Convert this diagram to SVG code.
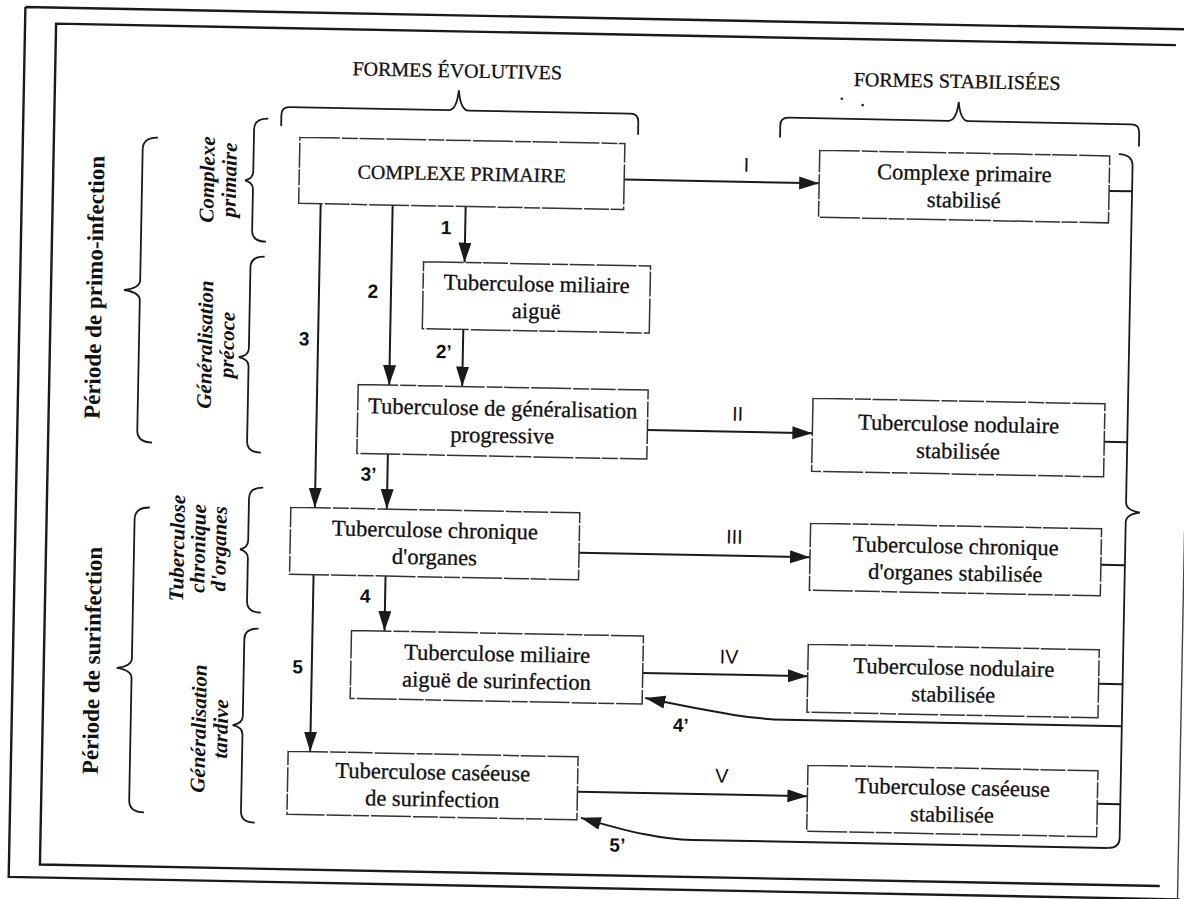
<svg xmlns="http://www.w3.org/2000/svg" width="1184" height="899" viewBox="0 0 1184 899">
<style>
.frame{fill:none;stroke:#1a1a1a;stroke-width:2.4}
.box{fill:#fff;stroke:#333;stroke-width:1.5;stroke-dasharray:40 2 16 1.5 25 2}
.ln{fill:none;stroke:#1a1a1a;stroke-width:2}
.br{fill:none;stroke:#1a1a1a;stroke-width:1.8}
.t{font-family:"Liberation Serif","Times New Roman",serif;font-size:22.5px;fill:#111;stroke:#111;stroke-width:0.3;text-anchor:middle}
.cap{font-family:"Liberation Serif","Times New Roman",serif;font-size:20px;fill:#111;stroke:#111;stroke-width:0.3;text-anchor:middle}
.side{font-family:"Liberation Serif","Times New Roman",serif;font-size:23px;font-weight:bold;fill:#111;text-anchor:middle}
.sub{font-family:"Liberation Serif","Times New Roman",serif;font-size:21px;font-weight:bold;font-style:italic;fill:#111;text-anchor:middle}
.num{font-family:"Liberation Sans",Arial,sans-serif;font-size:19px;font-weight:bold;fill:#111;text-anchor:middle}
.rom{font-family:"Liberation Sans",Arial,sans-serif;font-size:20px;fill:#111;text-anchor:middle}
</style>
<defs>
<marker id="ah" markerUnits="userSpaceOnUse" markerWidth="22" markerHeight="14" refX="20" refY="6.5" orient="auto">
<path d="M0,0 L20,6.5 L0,13 z" fill="#1a1a1a"/>
</marker>
</defs>
<rect width="1184" height="899" fill="#fff"/>
<g transform="rotate(1.1 592 450)">
<g id="frame">
<path class="frame" d="M17,18 L1200,18 M17,18 L17,888 L1188,888"/>
<path class="frame" stroke-width="2" d="M1168,34 L48,34 L48,875 L1168,875"/>
<path d="M1186,519 L1186,888" stroke="#444" stroke-width="1.4" fill="none"/>
</g>
<g id="headers">
<text class="cap" x="450" y="80">FORMES ÉVOLUTIVES</text>
<text class="cap" x="950" y="81">FORMES STABILISÉES</text>
<circle cx="835" cy="94" r="1.3" fill="#222"/>
<circle cx="856" cy="100" r="1.3" fill="#222"/>
<path class="br" d="M275,132 L275,121 Q275,113 283,113 L442,113 Q450,113 452,93 Q454,113 462,113 L624,113 Q632,113 632,121 L632,134"/>
<path class="br" d="M774,134 L774,122 Q774,114 782,114 L942,114 Q950,114 952,95 Q954,114 962,114 L1125,114 Q1133,114 1133,122 L1133,136"/>
</g>
<g id="periods">
<text class="side" transform="translate(99,297) rotate(-90)">Période de primo-infection</text>
<path class="br" d="M152,146 Q137,146 137,158 L137,289 Q137,297 121,299 Q137,301 137,309 L137,439 Q137,451 152,451"/>
<text class="side" transform="translate(104,670) rotate(-90)">Période de surinfection</text>
<path class="br" d="M151,516 Q136,516 136,528 L136,667 Q136,675 121,677 Q136,679 136,687 L136,809 Q136,821 151,821"/>
</g>
<g id="stages">
<text class="sub" transform="translate(209,187) rotate(-90)">Complexe</text>
<text class="sub" transform="translate(231,187) rotate(-90)">primaire</text>
<path class="br" d="M262,125 Q248,125 248,136 L248,178 Q248,185 240,187 Q248,189 248,196 L248,237 Q248,248 262,248"/>
<text class="sub" transform="translate(210,352) rotate(-90)">Généralisation</text>
<text class="sub" transform="translate(232,352) rotate(-90)">précoce</text>
<path class="br" d="M261,263 Q247,263 247,274 L247,355 Q247,362 237,364 Q247,366 247,373 L247,448 Q247,459 261,459"/>
<text class="sub" transform="translate(186,556) rotate(-90)">Tuberculose</text>
<text class="sub" transform="translate(207,556) rotate(-90)">chronique</text>
<text class="sub" transform="translate(228,556) rotate(-90)">d'organes</text>
<path class="br" d="M264,494 Q250,494 250,505 L250,547 Q250,554 242,556 Q250,558 250,565 L250,608 Q250,619 264,619"/>
<text class="sub" transform="translate(211,736) rotate(-90)">Généralisation</text>
<text class="sub" transform="translate(233,736) rotate(-90)">tardive</text>
<path class="br" d="M262,635 Q248,635 248,646 L248,723 Q248,730 238,732 Q248,734 248,741 L248,818 Q248,829 262,829"/>
</g>
<g id="connectors">
<path class="ln" d="M619,179 L814,179" marker-end="url(#ah)"/>
<path class="ln" d="M647,429 L812,429" marker-end="url(#ah)"/>
<path class="ln" d="M581,553 L812,553" marker-end="url(#ah)"/>
<path class="ln" d="M647,672 L812,672" marker-end="url(#ah)"/>
<path class="ln" d="M584,792 L814,792" marker-end="url(#ah)"/>
<path class="ln" d="M461,209 L461,265" marker-end="url(#ah)"/>
<path class="ln" d="M388,209 L388,389" marker-end="url(#ah)"/>
<path class="ln" d="M316,209 L316,513" marker-end="url(#ah)"/>
<path class="ln" d="M461,332 L461,389" marker-end="url(#ah)"/>
<path class="ln" d="M388,458 L388,513" marker-end="url(#ah)"/>
<path class="ln" d="M388,580 L388,635" marker-end="url(#ah)"/>
<path class="ln" d="M316,580 L316,757" marker-end="url(#ah)"/>
<path class="br" d="M1113,144 Q1127,144 1127,156 L1127,492 Q1127,500 1141,502 Q1127,504 1127,512 L1127,828 Q1127,838 1115,838"/>
<path class="ln" d="M1104,181 L1127,181 M1104,432 L1127,432 M1103,555 L1127,555 M1103,674 L1127,674 M1104,794 L1127,794"/>
<path class="ln" d="M1127,716 L790,716 C760,716 730,712 650,697" marker-end="url(#ah)"/>
<path class="ln" d="M1115,838 L700,838 C670,838 640,832 588,818" marker-end="url(#ah)"/>
<text class="rom" x="741" y="169">I</text>
<text class="rom" x="737" y="418">II</text>
<text class="rom" x="736" y="541">III</text>
<text class="rom" x="733" y="661">IV</text>
<text class="rom" x="728" y="780">V</text>
<text class="num" x="442" y="237">1</text>
<text class="num" x="370" y="302">2</text>
<text class="num" x="302" y="351">3</text>
<text class="num" x="442" y="361">2’</text>
<text class="num" x="369" y="485">3’</text>
<text class="num" x="368" y="607">4</text>
<text class="num" x="302" y="679">5</text>
<text class="num" x="686" y="730">4’</text>
<text class="num" x="625" y="851">5’</text>
</g>
<g id="n1"><rect class="box" x="294" y="143" width="325" height="66"/><text class="cap" x="456.5" y="183">COMPLEXE PRIMAIRE</text></g>
<g id="n2"><rect class="box" x="814" y="146" width="290" height="67"/><text class="t" x="959" y="173.5">Complexe primaire</text><text class="t" x="959" y="200.5">stabilisé</text></g>
<g id="n3"><rect class="box" x="420" y="265" width="227" height="67"/><text class="t" x="533.5" y="292.5">Tuberculose miliaire</text><text class="t" x="533.5" y="319.5">aiguë</text></g>
<g id="n4"><rect class="box" x="357" y="389" width="290" height="69"/><text class="t" x="502" y="417.5">Tuberculose de généralisation</text><text class="t" x="502" y="444.5">progressive</text></g>
<g id="n5"><rect class="box" x="812" y="394" width="292" height="73"/><text class="t" x="958" y="424.5">Tuberculose nodulaire</text><text class="t" x="958" y="451.5">stabilisée</text></g>
<g id="n6"><rect class="box" x="292" y="513" width="289" height="67"/><text class="t" x="436.5" y="540.5">Tuberculose chronique</text><text class="t" x="436.5" y="567.5">d'organes</text></g>
<g id="n7"><rect class="box" x="812" y="519" width="291" height="67"/><text class="t" x="957.5" y="546.5">Tuberculose chronique</text><text class="t" x="957.5" y="573.5">d'organes stabilisée</text></g>
<g id="n8"><rect class="box" x="355" y="635" width="292" height="68"/><text class="t" x="501" y="663">Tuberculose miliaire</text><text class="t" x="501" y="690">aiguë de surinfection</text></g>
<g id="n9"><rect class="box" x="812" y="640" width="291" height="68"/><text class="t" x="958" y="668">Tuberculose nodulaire</text><text class="t" x="958" y="695">stabilisée</text></g>
<g id="n10"><rect class="box" x="294" y="757" width="290" height="63"/><text class="t" x="439" y="782.5">Tuberculose caséeuse</text><text class="t" x="439" y="809.5">de surinfection</text></g>
<g id="n11"><rect class="box" x="814" y="761" width="290" height="66"/><text class="t" x="959" y="788">Tuberculose caséeuse</text><text class="t" x="959" y="815">stabilisée</text></g>
</g>
</svg>
